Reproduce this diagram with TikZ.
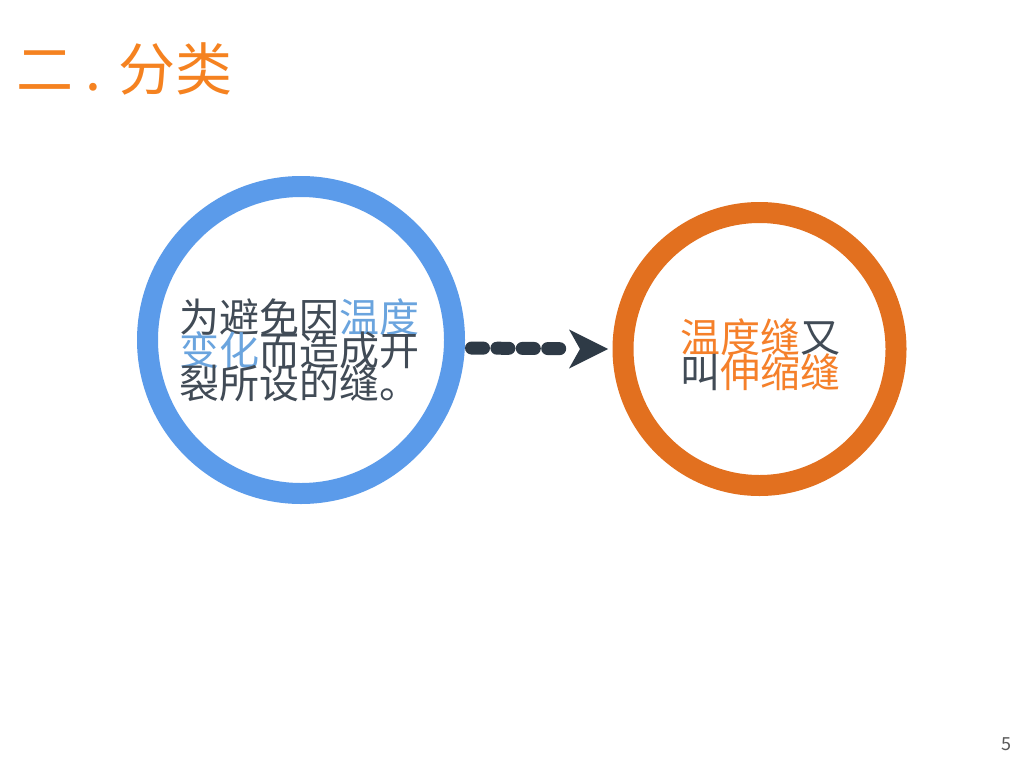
\documentclass[tikz,border=0pt]{standalone}
\usepackage{fontspec}
\newfontfamily\cjk{Noto Sans CJK SC}
\definecolor{ringblue}{HTML}{5B9BEA}
\definecolor{ringorange}{HTML}{E2701F}
\definecolor{txtdark}{HTML}{414B56}
\definecolor{txtblue}{HTML}{6AA4DE}
\definecolor{txtorange}{HTML}{F5802A}
\definecolor{titleorange}{HTML}{F58220}
\definecolor{arrowdark}{HTML}{2E3A46}
\definecolor{pagegray}{HTML}{595959}
\tikzset{
  ring/.style={circle, draw=#1, line width=21pt, fill=white, inner sep=0pt},
  bodytext/.style={anchor=base west, inner sep=0pt, outer sep=0pt, text=txtdark,
    font=\cjk\fontsize{40}{40}\selectfont},
  dashline/.style={draw=arrowdark, line width=13pt, line cap=round, dash pattern=on 12pt off 13.4pt},
}
\begin{document}
\begin{tikzpicture}[x=1pt, y=-1pt]
\useasboundingbox[fill=white] (0,0) rectangle (1024,768);
% title
\node[anchor=base west, inner sep=0pt, text=titleorange, font=\cjk\fontsize{57}{57}\selectfont] (title) at (16,90) {二 . 分类};
% circles
\node[ring=ringblue, minimum size=307pt] (L) at (301,340) {};
\node[ring=ringorange, minimum size=273pt] (R) at (759.5,349) {};
% left text
\node[bodytext] (l1) at (179,332) {为避免因\textcolor{txtblue}{温度}};
\node[bodytext] (l2) at (179,365) {\textcolor{txtblue}{变化}而造成开};
\node[bodytext] (l3) at (179,398) {裂所设的缝。};
% right text
\node[bodytext] (r1) at (680,352) {\textcolor{txtorange}{温度缝}又};
\node[bodytext] (r2) at (680,387) {叫\textcolor{txtorange}{伸缩缝}};
% connector
\draw[dashline, shorten <=6.5pt, shorten >=52pt] (L.east |- 0,348) -- (R.west);
\coordinate (tip) at ([xshift=-4.5pt]R.west);
\fill[arrowdark] (tip) -- ++(-39,-19.5) -- ++(11,19.5) -- ++(-11,19.5) -- cycle;
% page number
\node[anchor=base east, inner sep=0pt, text=pagegray, font=\cjk\fontsize{18}{18}\selectfont] (page) at (1012,750) {5};
\end{tikzpicture}
\end{document}
